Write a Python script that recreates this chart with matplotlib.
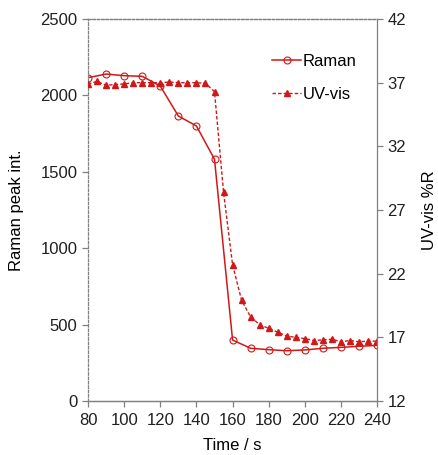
import numpy as np
import matplotlib
matplotlib.use('Agg')
import matplotlib.pyplot as plt

plt.rcParams['font.family'] = ['Liberation Sans', 'DejaVu Sans']
plt.rcParams['font.size'] = 12

# Raman peak intensity (left axis), every 10 s
raman_t = [80, 90, 100, 110, 120, 130, 140, 150, 160, 170, 180, 190, 200,
           210, 220, 230, 240]
raman_y = [2116, 2140, 2129, 2125, 2061, 1865, 1800, 1582, 399, 345, 336,
           329, 334, 345, 351, 358, 364]

# UV-vis %R (right axis), every 5 s
uv_t = [80, 85, 90, 95, 100, 105, 110, 115, 120, 125, 130, 135, 140, 145,
        150, 155, 160, 165, 170, 175, 180, 185, 190, 195, 200, 205, 210,
        215, 220, 225, 230, 235, 240]
uv_y = [36.9, 37.1, 36.8, 36.85, 36.9, 37.0, 37.0, 37.0, 37.0, 37.05, 37.0,
        37.0, 37.0, 36.95, 36.3, 28.4, 22.7, 19.9, 18.6, 18.0, 17.7, 17.4,
        17.1, 17.0, 16.9, 16.75, 16.8, 16.85, 16.65, 16.75, 16.65, 16.7, 16.7]

red = '#d01818'
grey = '#808080'

fig = plt.figure(figsize=(4.38, 4.55), dpi=100)
ax = fig.add_axes([0.201, 0.1187, 0.66, 0.8395])
ax2 = ax.twinx()

l1, = ax.plot(raman_t, raman_y, '-', color=red, lw=1.1, marker='o',
              markersize=5, markerfacecolor='none', markeredgecolor=red,
              markeredgewidth=0.8, label='Raman')
l2, = ax2.plot(uv_t, uv_y, '--', color=red, lw=1.0, marker='^',
               markersize=4.5, markerfacecolor=red, markeredgecolor=red,
               dashes=(2.5, 1.5), label='UV-vis')

ax.set_xlim(80, 240)
ax.set_ylim(0, 2500)
ax.set_xticks(np.arange(80, 241, 20))
ax.set_yticks(np.arange(0, 2501, 500))
ax2.set_ylim(12, 42)
ax2.set_yticks(np.arange(12, 43, 5))

ax.set_xlabel('Time / s', labelpad=7)
ax.set_ylabel('Raman peak int.', labelpad=12)
ax2.set_ylabel('UV-vis %R', labelpad=11)

for a in (ax, ax2):
    for s in a.spines.values():
        s.set_color(grey)
        s.set_linewidth(0.9)
    a.spines['top'].set_linestyle((0, (2, 1.5)))
    a.tick_params(direction='out', color=grey, length=4, width=0.9,
                  labelcolor='#202020')
ax.spines['left'].set_linestyle((0, (2, 1.5)))
ax2.spines['left'].set_visible(False)
ax.spines['right'].set_visible(False)
ax.tick_params(axis='x', pad=5)

ax2.legend([l1, l2], ['Raman', 'UV-vis'], loc='upper right',
           bbox_to_anchor=(0.98, 0.948), frameon=False, handlelength=1.7,
           handletextpad=0.1, labelspacing=1.1, fontsize=12)

fig.savefig('out.png', dpi=100)
